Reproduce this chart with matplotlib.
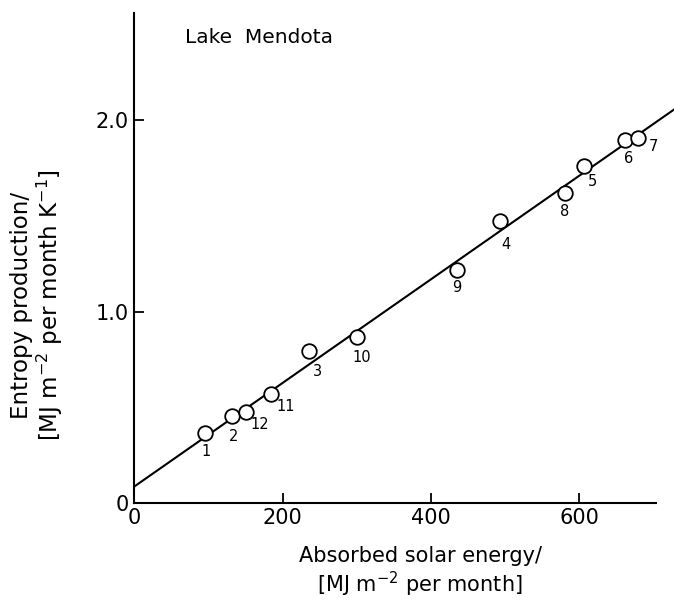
import numpy as np
import matplotlib.pyplot as plt

# monthly values, Lake Mendota
months = ["1", "2", "12", "11", "3", "10", "9", "4", "8", "5", "6", "7"]
solar = [96, 132, 151, 184, 236, 300, 435, 493, 580, 606, 662, 679]
entropy = [0.365, 0.455, 0.475, 0.569, 0.792, 0.868, 1.22, 1.473, 1.621, 1.761, 1.895, 1.909]

# regression line
fit_x = [0, 730]
intercept, slope = 0.085, 0.00271

# label offsets (pixels) from each marker
lab_dx = [1, 1, 14, 15, 8, 5, 0, 6, 0, 9, 3, 15]
lab_dy = [-18, -21, -12, -12, -20, -21, -18, -23, -19, -15, -18, -9]

plt.rcParams['font.family'] = ['DejaVu Sans']
fig = plt.figure(figsize=(6.74, 6.03), dpi=100)
ax = fig.add_axes([0.199, 0.166, 0.774, 0.812])

fx = np.array(fit_x)
ax.plot(fx, intercept + slope * fx, color="black", lw=1.5, clip_on=False, zorder=2)
ax.plot(solar, entropy, "o", ms=10.5, mfc="white", mec="black", mew=1.3, zorder=3)

for m, x, y, dx, dy in zip(months, solar, entropy, lab_dx, lab_dy):
    ax.annotate(m, (x, y), xytext=(dx, dy), textcoords="offset pixels",
                ha="center", va="center", fontsize=10.5)

ax.set_xlim(0, 703)
ax.set_ylim(0, 2.56)
ax.set_xticks([0, 200, 400, 600])
ax.set_xticklabels(["0", "200", "400", "600"])
ax.set_yticks([0, 1.0, 2.0])
ax.set_yticklabels(["0", "1.0", "2.0"])
ax.tick_params(direction="in", length=7, width=1.3, labelsize=15, pad=4)

for s in ["top", "right"]:
    ax.spines[s].set_visible(False)
for s in ["left", "bottom"]:
    ax.spines[s].set_linewidth(1.5)

ax.set_xlabel("Absorbed solar energy/\n[MJ m$^{-2}$ per month]", fontsize=15,
              linespacing=1.15)
ax.xaxis.set_label_coords(0.548, -0.088, transform=ax.transAxes)
ax.xaxis.label.set_va("top")
ax.set_ylabel("Entropy production/\n[MJ m$^{-2}$ per month K$^{-1}$]", fontsize=16.5,
              linespacing=1.05)
ax.yaxis.set_label_coords(-0.133, 0.404, transform=ax.transAxes)

ax.text(0.098, 0.951, "Lake  Mendota", transform=ax.transAxes, fontsize=14.5,
        ha="left", va="center")

fig.savefig("out.png", dpi=100)
